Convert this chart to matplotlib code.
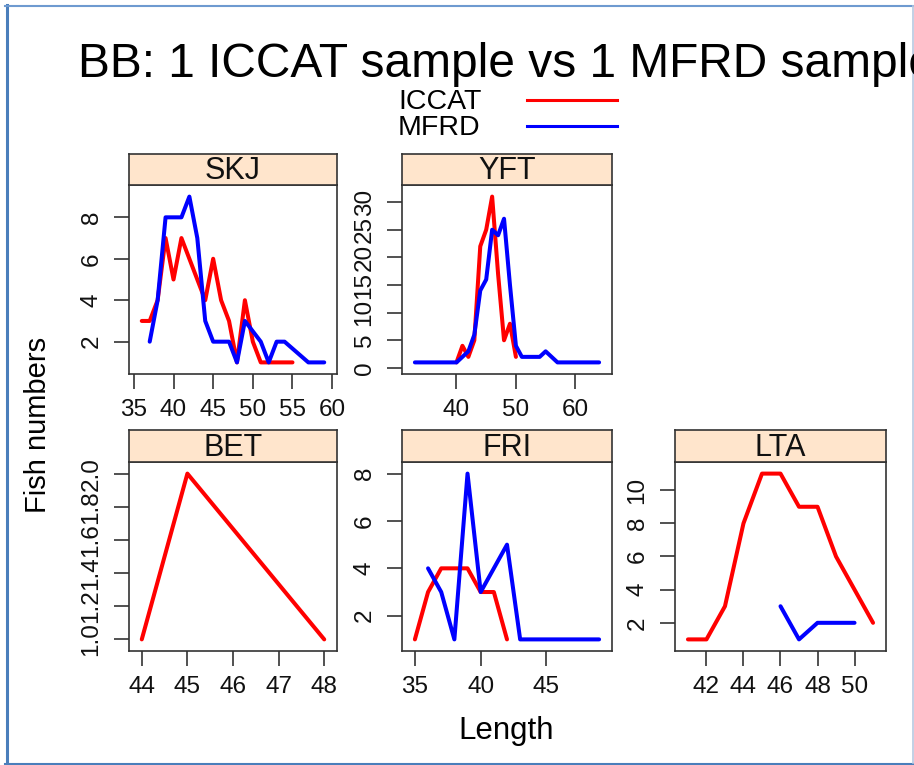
import matplotlib
matplotlib.use("Agg")
import matplotlib.pyplot as plt
from matplotlib.lines import Line2D

plt.rcParams['font.family'] = ['Liberation Sans', 'DejaVu Sans']

# ---------------- data ----------------
title = "BB: 1 ICCAT sample vs 1 MFRD sample"
series_names = ["ICCAT", "MFRD"]
series_colors = ["#FF0000", "#0000FF"]

skj_iccat_len = [36, 37, 38, 39, 40, 41, 42, 43, 44, 45, 46, 47, 48, 49, 50, 51, 52, 53, 54, 55]
skj_iccat_n = [3, 3, 4, 7, 5, 7, 6, 5, 4, 6, 4, 3, 1, 4, 2, 1, 1, 1, 1, 1]
skj_mfrd_len = [37, 38, 39, 40, 41, 42, 43, 44, 45, 46, 47, 48, 49, 50, 51, 52, 53, 54, 57, 58, 59]
skj_mfrd_n = [2, 4, 8, 8, 8, 9, 7, 3, 2, 2, 2, 1, 3, 2.5, 2, 1, 2, 2, 1, 1, 1]

yft_iccat_len = [40, 41, 42, 43, 44, 45, 46, 47, 48, 49, 50]
yft_iccat_n = [1, 4, 2, 5, 22, 25, 31, 17, 5, 8, 2]
yft_mfrd_len = [33, 40, 41, 42, 43, 44, 45, 46, 47, 48, 49, 50, 51, 54, 55, 57, 64]
yft_mfrd_n = [1, 1, 2, 3, 6, 14, 16, 25, 24, 27, 15, 4, 2, 2, 3, 1, 1]

bet_iccat_len = [44, 45, 48]
bet_iccat_n = [1, 2, 1]
bet_mfrd_len = []
bet_mfrd_n = []

fri_iccat_len = [35, 36, 37, 38, 39, 40, 41, 42]
fri_iccat_n = [1, 3, 4, 4, 4, 3, 3, 1]
fri_mfrd_len = [36, 37, 38, 39, 40, 41, 42, 43, 49]
fri_mfrd_n = [4, 3, 1, 8, 3, 4, 5, 1, 1]

lta_iccat_len = [41, 42, 43, 44, 45, 46, 47, 48, 49, 50, 51]
lta_iccat_n = [1, 1, 3, 8, 11, 11, 9, 9, 6, 4, 2]
lta_mfrd_len = [46, 47, 48, 49, 50]
lta_mfrd_n = [3, 1, 2, 2, 2]

species = ["SKJ", "YFT", "BET", "FRI", "LTA"]
x_ticks = {
    "SKJ": [35, 40, 45, 50, 55, 60],
    "YFT": [40, 50, 60],
    "BET": [44, 45, 46, 47, 48],
    "FRI": [35, 40, 45],
    "LTA": [42, 44, 46, 48, 50],
}
y_ticks = {
    "SKJ": [2, 4, 6, 8],
    "YFT": [0, 5, 10, 15, 20, 25, 30],
    "BET": [1.0, 1.2, 1.4, 1.6, 1.8, 2.0],
    "FRI": [2, 4, 6, 8],
    "LTA": [2, 4, 6, 8, 10],
}
data = {
    "SKJ": ((skj_iccat_len, skj_iccat_n), (skj_mfrd_len, skj_mfrd_n)),
    "YFT": ((yft_iccat_len, yft_iccat_n), (yft_mfrd_len, yft_mfrd_n)),
    "BET": ((bet_iccat_len, bet_iccat_n), (bet_mfrd_len, bet_mfrd_n)),
    "FRI": ((fri_iccat_len, fri_iccat_n), (fri_mfrd_len, fri_mfrd_n)),
    "LTA": ((lta_iccat_len, lta_iccat_n), (lta_mfrd_len, lta_mfrd_n)),
}

# ---------------- layout ----------------
W, H = 914, 765
fig = plt.figure(figsize=(W / 100, H / 100), dpi=100)
fig.patch.set_facecolor("white")


def box(x0, y0, x1, y1):
    return [x0 / W, 1 - y1 / H, (x1 - x0) / W, (y1 - y0) / H]


cols = [(129, 337), (402, 612), (675, 886)]
rows = [((154, 185), (185, 374)), ((430, 462), (462, 651))]
pos = {"SKJ": (0, 0), "YFT": (0, 1), "BET": (1, 0), "FRI": (1, 1), "LTA": (1, 2)}

for sp in species:
    r, c = pos[sp]
    (sy0, sy1), (py0, py1) = rows[r]
    x0, x1 = cols[c]
    ax = fig.add_axes(box(x0, py0, x1, py1))
    allx, ally = [], []
    for (xs, ys), col in zip(data[sp], series_colors):
        if len(xs):
            ax.plot(xs, ys, color=col, lw=2.9, solid_capstyle="round",
                    solid_joinstyle="round")
            allx += list(xs)
            ally += list(ys)
    xmin, xmax = min(allx), max(allx)
    ymin, ymax = min(ally), max(ally)
    dx = 0.07 * (xmax - xmin)
    dy = 0.07 * (ymax - ymin)
    ax.set_xlim(xmin - dx, xmax + dx)
    ax.set_ylim(ymin - dy, ymax + dy)
    ax.set_xticks(x_ticks[sp])
    ax.set_yticks(y_ticks[sp])
    if sp == "BET":
        ax.set_yticklabels([f"{v:.1f}" for v in y_ticks[sp]])
    else:
        ax.set_yticklabels([f"{v:g}" for v in y_ticks[sp]])
    ax.tick_params(axis="both", direction="out", length=11, width=1.1,
                   labelsize=17.5, colors="#222222", labelcolor="#111111")
    ax.tick_params(axis="x", pad=7)
    ax.tick_params(axis="y", pad=8)
    for lab in ax.get_yticklabels():
        lab.set_rotation(90)
        lab.set_va("center")
        lab.set_ha("right")
    for s in ax.spines.values():
        s.set_linewidth(1.2)
        s.set_color("#333333")
    # strip
    sax = fig.add_axes(box(x0, sy0, x1, sy1))
    sax.set_facecolor("#FFE5CC")
    sax.set_xticks([])
    sax.set_yticks([])
    for s in sax.spines.values():
        s.set_linewidth(1.2)
        s.set_color("#333333")
    sax.text(0.5, 0.45, sp, ha="center", va="center", fontsize=22,
             transform=sax.transAxes, color="#111111")

# title
fig.text(78 / W, 1 - 77 / H, title, ha="left", va="baseline", fontsize=34.5,
         color="black")

# legend
leg_y = [100, 126]
for name, col, yy in zip(series_names, series_colors, leg_y):
    fig.text(398 / W, 1 - (yy + 9) / H, name, ha="left", va="baseline",
             fontsize=20.5, color="black")
    fig.add_artist(Line2D([527 / W, 617 / W], [1 - yy / H, 1 - yy / H],
                          color=col, lw=2.2, transform=fig.transFigure))

# axis labels
fig.text(506 / W, 1 - 739 / H, "Length", ha="center", va="baseline",
         fontsize=22.5, color="black")
fig.text(38 / W, 1 - 425 / H, "Fish numbers", ha="center", va="center",
         rotation=90, fontsize=21, color="black")

# screenshot frame
fig.add_artist(Line2D([6.5 / W, 6.5 / W], [0, 1 - 5 / H], color="#4A7EBB",
                      lw=2.2, transform=fig.transFigure))
fig.add_artist(Line2D([5 / W, 1], [1 - 6 / H, 1 - 6 / H], color="#6E9AD0",
                      lw=1.5, transform=fig.transFigure))
fig.add_artist(Line2D([5 / W, 1], [1 - 763.5 / H, 1 - 763.5 / H],
                      color="#4A7EBB", lw=1.5, transform=fig.transFigure))
fig.add_artist(Line2D([912.5 / W, 912.5 / W], [1 - 763 / H, 1 - 6 / H],
                      color="#B8C8E0", lw=1.2, transform=fig.transFigure))

fig.savefig("out.png", dpi=100)
